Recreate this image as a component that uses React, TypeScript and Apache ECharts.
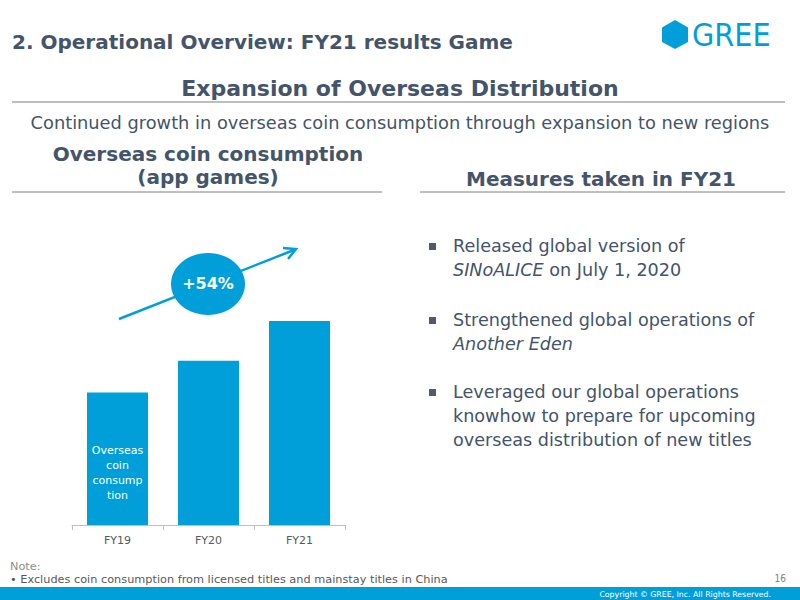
import React, { useEffect, useRef } from "react";
import * as echarts from "echarts";

const categories = ["FY19", "FY20", "FY21"];
const coinValues = [100, 124, 154];
const growthLabel = "+54%";
const barInsideLabel = "Overseas\ncoin\nconsump\ntion";
const bullets = [
  ["Released global version of", "{i|SINoALICE} on July 1, 2020"],
  ["Strengthened global operations of", "{i|Another Eden}"],
  [
    "Leveraged our global operations",
    "knowhow to prepare for upcoming",
    "overseas distribution of new titles",
  ],
];

const BLUE = "#009fda";
const DARK = "#44546a";
const FONT = "DejaVu Sans, Verdana, sans-serif";
const COND = "DejaVu Sans Condensed, DejaVu Sans, sans-serif";

export default function App() {
  const ref = useRef<HTMLDivElement>(null);
  useEffect(() => {
    if (!ref.current) return;
    const chart = echarts.init(ref.current, null, { renderer: "svg" });

    const graphics: any[] = [];
    // header
    graphics.push({
      type: "text", x: 12, y: 42,
      style: { text: "2. Operational Overview: FY21 results Game", font: `bold 20px ${FONT}`, fill: DARK, verticalAlign: "middle" },
    });
    graphics.push({
      type: "polygon",
      shape: { points: [[675, 20], [688, 27.5], [688, 42], [675, 49], [662, 42], [662, 27.5]] },
      style: { fill: BLUE },
    });
    graphics.push({
      type: "text", x: 692, y: 35,
      style: { text: "GREE", font: `32px ${COND}`, fill: BLUE, verticalAlign: "middle" },
    });
    graphics.push({
      type: "text", x: 400, y: 88,
      style: { text: "Expansion of Overseas Distribution", font: `bold 22px ${FONT}`, fill: DARK, align: "center", verticalAlign: "middle" },
    });
    graphics.push({ type: "line", shape: { x1: 12, y1: 102, x2: 785, y2: 102 }, style: { stroke: "#7f7f7f", lineWidth: 1 } });
    graphics.push({
      type: "text", x: 400, y: 122,
      style: { text: "Continued growth in overseas coin consumption through expansion to new regions", font: `17.8px ${FONT}`, fill: DARK, align: "center", verticalAlign: "middle" },
    });
    graphics.push({
      type: "text", x: 208, y: 165,
      style: { text: "Overseas coin consumption\n(app games)", font: `bold 20px ${FONT}`, fill: DARK, align: "center", verticalAlign: "middle", lineHeight: 23 },
    });
    graphics.push({ type: "line", shape: { x1: 12, y1: 192, x2: 382, y2: 192 }, style: { stroke: "#7f7f7f", lineWidth: 1 } });
    graphics.push({
      type: "text", x: 601, y: 179,
      style: { text: "Measures taken in FY21", font: `bold 20px ${FONT}`, fill: DARK, align: "center", verticalAlign: "middle" },
    });
    graphics.push({ type: "line", shape: { x1: 420, y1: 192, x2: 785, y2: 192 }, style: { stroke: "#7f7f7f", lineWidth: 1 } });

    // bullets
    const starts = [246, 320, 392];
    bullets.forEach((lines, bi) => {
      graphics.push({ type: "rect", shape: { x: 429, y: starts[bi] - 3, width: 7, height: 7 }, style: { fill: "#4f5b69" } });
      lines.forEach((ln, li) => {
        graphics.push({
          type: "text", x: 453, y: starts[bi] + li * 24,
          style: {
            text: ln, font: `17.6px ${FONT}`, fill: DARK, verticalAlign: "middle",
            rich: { i: { fontStyle: "italic", fontSize: 17.6, fontFamily: FONT, fill: DARK } },
          },
        });
      });
    });

    // arrow + bubble
    graphics.push({
      type: "line", shape: { x1: 119, y1: 319, x2: 294, y2: 250 },
      style: { stroke: BLUE, lineWidth: 2.5 },
    });
    graphics.push({
      type: "polyline", shape: { points: [[283, 248], [296, 249], [288, 259]] },
      style: { stroke: BLUE, lineWidth: 2.5, fill: null },
    });
    graphics.push({ type: "ellipse", shape: { cx: 208, cy: 284, rx: 37, ry: 31 }, style: { fill: BLUE } });
    graphics.push({
      type: "text", x: 208, y: 283,
      style: { text: growthLabel, font: `bold 16px ${FONT}`, fill: "#ffffff", align: "center", verticalAlign: "middle" },
    });

    // notes / footer
    graphics.push({ type: "text", x: 10, y: 566, style: { text: "Note:", font: `11.3px ${FONT}`, fill: "#8c8c8c", verticalAlign: "middle" } });
    graphics.push({
      type: "text", x: 10, y: 579,
      style: { text: "• Excludes coin consumption from licensed titles and mainstay titles in China", font: `11.3px ${FONT}`, fill: "#595959", verticalAlign: "middle" },
    });
    graphics.push({ type: "text", x: 786, y: 578, style: { text: "16", font: `10px ${COND}`, fill: "#7f7f7f", align: "right", verticalAlign: "middle" } });
    graphics.push({ type: "rect", shape: { x: 0, y: 587, width: 800, height: 13 }, style: { fill: BLUE } });
    graphics.push({
      type: "text", x: 771, y: 594,
      style: { text: "Copyright © GREE, Inc. All Rights Reserved.", font: `7.8px ${FONT}`, fill: "#ffffff", align: "right", verticalAlign: "middle" },
    });

    chart.setOption({
      animation: false,
      backgroundColor: "#ffffff",
      grid: { left: 72, right: 455, top: 260, bottom: 75 },
      xAxis: {
        type: "category",
        data: categories,
        axisLine: { lineStyle: { color: "#bfbfbf", width: 1 } },
        axisTick: { show: true, length: 5, lineStyle: { color: "#bfbfbf" } },
        axisLabel: { color: "#595959", fontSize: 11, fontFamily: FONT, margin: 10 },
      },
      yAxis: { type: "value", min: 0, max: 200, show: false, splitLine: { show: false } },
      series: [
        {
          type: "bar",
          barWidth: 61,
          itemStyle: { color: BLUE },
          data: coinValues.map((v, i) =>
            i === 0
              ? {
                  value: v,
                  label: {
                    show: true, position: "inside", offset: [0, 14],
                    formatter: barInsideLabel, color: "#ffffff", fontSize: 11, fontFamily: FONT, lineHeight: 15,
                  },
                }
              : v
          ),
        },
      ],
      graphic: graphics,
    });
    return () => chart.dispose();
  }, []);
  return <div ref={ref} style={{ position: "fixed", left: 0, top: 0, width: 800, height: 600 }} />;
}
